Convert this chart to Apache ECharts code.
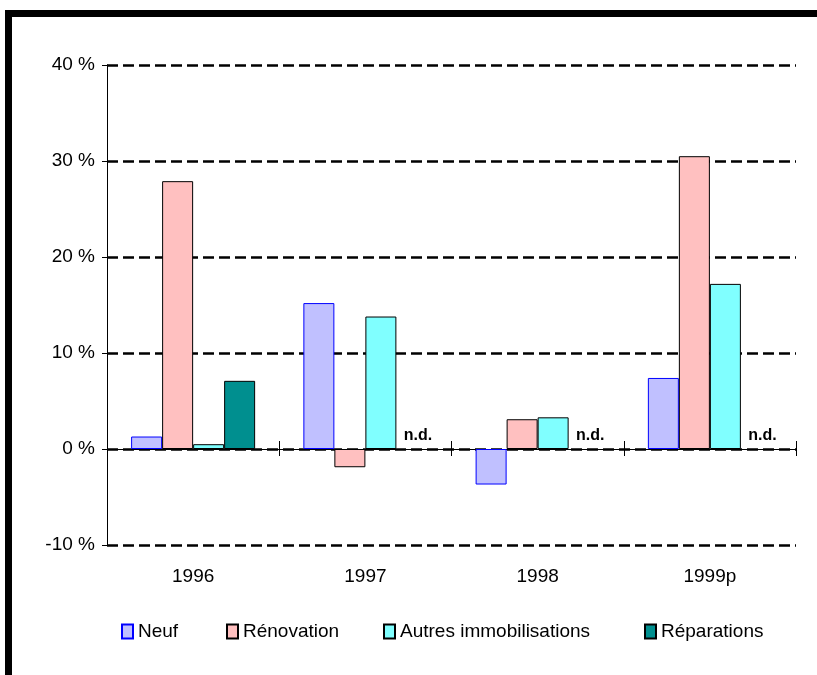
<!DOCTYPE html>
<html><head><meta charset="utf-8">
<script src="https://cdn.jsdelivr.net/npm/echarts@6/dist/echarts.min.js"></script>
<style>html,body{margin:0;padding:0;background:#fff}#c{width:817px;height:675px}</style>
</head><body><div id="c"></div>
<script>
const categories = ['1996', '1997', '1998', '1999p'];
const neuf = [1.3, 15.2, -3.7, 7.4];
const renovation = [27.9, -1.9, 3.1, 30.5];
const autres = [0.5, 13.8, 3.3, 17.2];
const reparations = [7.1, null, null, null];
const ndLabel = 'n.d.';
const seriesNames = ['Neuf', 'Rénovation', 'Autres immobilisations', 'Réparations'];
const yTicks = [-10, 0, 10, 20, 30, 40];

const font = 'Liberation Sans, Arial, sans-serif';
const chart = echarts.init(document.getElementById('c'), null, {renderer: 'canvas'});

const repData = reparations.map(v => v === null
  ? {value: 0, itemStyle: {borderWidth: 0}, label: {show: true, formatter: ndLabel}}
  : v);

const yBase = {
  type: 'value', min: yTicks[0], max: yTicks[yTicks.length - 1], interval: 10,
};
const legendLeft = [121, 226, 383, 644];

chart.setOption({
  animation: false,
  backgroundColor: '#fff',
  textStyle: {fontFamily: font},
  grid: {left: 107, right: 21, top: 65, bottom: 130, containLabel: false},
  legend: seriesNames.map((n, i) => ({
    top: 622, left: legendLeft[i], padding: 0, itemWidth: 11, itemHeight: 14, itemGap: 0,
    icon: 'rect',
    textStyle: {fontSize: 19, color: '#000', fontFamily: font},
    data: [n]
  })),
  xAxis: [
    {type: 'category', data: categories, position: 'bottom',
     axisLine: {onZero: true, onZeroAxisIndex: 0, lineStyle: {color: '#000', width: 1}},
     axisTick: {show: true, length: 7, lineStyle: {color: '#000'}}, axisLabel: {show: false}, splitLine: {show: false}},
    {type: 'category', data: categories, position: 'bottom',
     axisLine: {show: false, onZero: true, onZeroAxisIndex: 1},
     axisTick: {show: true, inside: true, length: 8, lineStyle: {color: '#000'}}, axisLabel: {show: false}},
    {type: 'category', data: categories, position: 'bottom', axisLine: {show: false, onZero: false},
     axisTick: {show: false}, axisLabel: {show: true, margin: 22, fontSize: 19, color: '#000', fontFamily: font}}
  ],
  yAxis: [
    Object.assign({}, yBase, {
      axisLine: {show: true, lineStyle: {color: '#000', width: 1}},
      axisTick: {show: true, length: 5, lineStyle: {color: '#000'}},
      axisLabel: {margin: 12, fontSize: 19, color: '#000', fontFamily: font, formatter: v => v + ' %'},
      splitLine: {show: true, lineStyle: {color: '#000', width: 2.5, type: [11, 5]}}
    }),
    Object.assign({}, yBase, {show: true, position: 'left',
      axisLine: {show: false}, axisTick: {show: false}, axisLabel: {show: false}, splitLine: {show: false}})
  ],
  series: [
    {name: 'Neuf', type: 'bar', data: neuf, barGap: '0%', barCategoryGap: '28%',
     itemStyle: {color: '#C0C0FF', borderColor: '#0000FF', borderWidth: 1}},
    {name: 'Rénovation', type: 'bar', data: renovation,
     itemStyle: {color: '#FFC0C0', borderColor: '#000', borderWidth: 1}},
    {name: 'Autres immobilisations', type: 'bar', data: autres,
     itemStyle: {color: '#80FFFF', borderColor: '#000', borderWidth: 1}},
    {name: 'Réparations', type: 'bar', data: repData,
     itemStyle: {color: '#008F8F', borderColor: '#000', borderWidth: 1},
     label: {show: false, position: 'top', distance: 5, offset: [6, 0], fontSize: 16, fontWeight: 'bold', color: '#000', fontFamily: font}}
  ],
  graphic: [
    {type: 'rect', shape: {x: 5, y: 10, width: 7, height: 665}, style: {fill: '#000'}, silent: true},
    {type: 'rect', shape: {x: 5, y: 10, width: 812, height: 7}, style: {fill: '#000'}, silent: true}
  ]
});
</script></body></html>
